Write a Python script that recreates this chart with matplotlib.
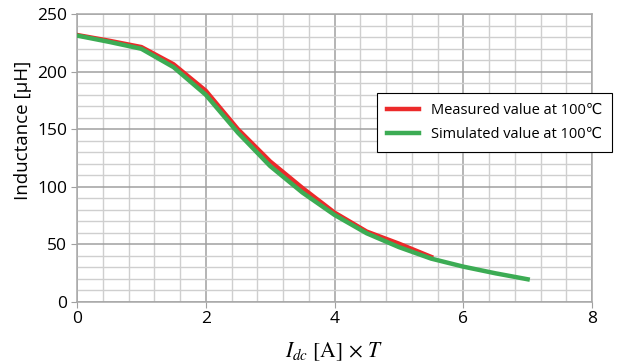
import matplotlib
matplotlib.use('Agg')
import matplotlib.pyplot as plt
from matplotlib.ticker import MultipleLocator

# data
meas_x = [0, 0.5, 1.0, 1.5, 2.0, 2.5, 3.0, 3.5, 4.0, 4.5, 5.0, 5.5]
meas_y = [232, 227, 221.5, 206.5, 183.5, 150, 122, 99, 77.5, 61, 50.5, 39]
sim_x = [0, 0.5, 1.0, 1.5, 2.0, 2.5, 3.0, 3.5, 4.0, 4.5, 5.0, 5.5, 6.0, 6.5, 7.0]
sim_y = [231.5, 226, 220, 204, 180, 147, 118, 95, 75.5, 59.5, 47.5, 37.5, 30.5, 24.7, 19.5]

plt.rcParams['font.family'] = ['Open Sans', 'DejaVu Sans']
plt.rcParams['mathtext.fontset'] = 'stix'

fig = plt.figure(figsize=(6.17, 3.62), dpi=100)
ax = fig.add_axes([0.1248, 0.1666, 0.8347, 0.7939])

ax.plot(meas_x, meas_y, color='#ec2a2a', lw=3.2, label='Measured value at 100\u2103', zorder=3)
ax.plot(sim_x, sim_y, color='#3cac54', lw=3.2, label='Simulated value at 100\u2103', zorder=4)

ax.set_xlim(0, 8)
ax.set_ylim(0, 250)
ax.xaxis.set_major_locator(MultipleLocator(2))
ax.xaxis.set_minor_locator(MultipleLocator(0.4))
ax.yaxis.set_major_locator(MultipleLocator(50))
ax.yaxis.set_minor_locator(MultipleLocator(10))
ax.grid(which='major', color='#a0a0a0', lw=1.1)
ax.grid(which='minor', color='#cfcfcf', lw=1.0)
ax.set_axisbelow(True)
for s in ax.spines.values():
    s.set_color('#a8a8a8')
    s.set_linewidth(1.1)
ax.tick_params(which='major', length=4, color='#a0a0a0', labelsize=12.5, pad=3)
ax.tick_params(which='minor', length=0)

ax.set_ylabel('Inductance [\u03bcH]', fontsize=13.5)
ax.yaxis.set_label_coords(-0.087, 0.597)
ax.set_xlabel(r'$I_{dc}\ \mathrm{[A]}\,\times\,T$', fontsize=15.5)
ax.xaxis.set_label_coords(0.5, -0.135)

leg = fig.legend(loc='upper left', bbox_to_anchor=(0.611, 0.743), fontsize=10.5,
                 frameon=True, fancybox=False, edgecolor='black', framealpha=1,
                 handlelength=2.2, borderpad=0.7, labelspacing=0.6, borderaxespad=0)
leg.get_frame().set_linewidth(0.8)

fig.savefig('out.png', dpi=100)
